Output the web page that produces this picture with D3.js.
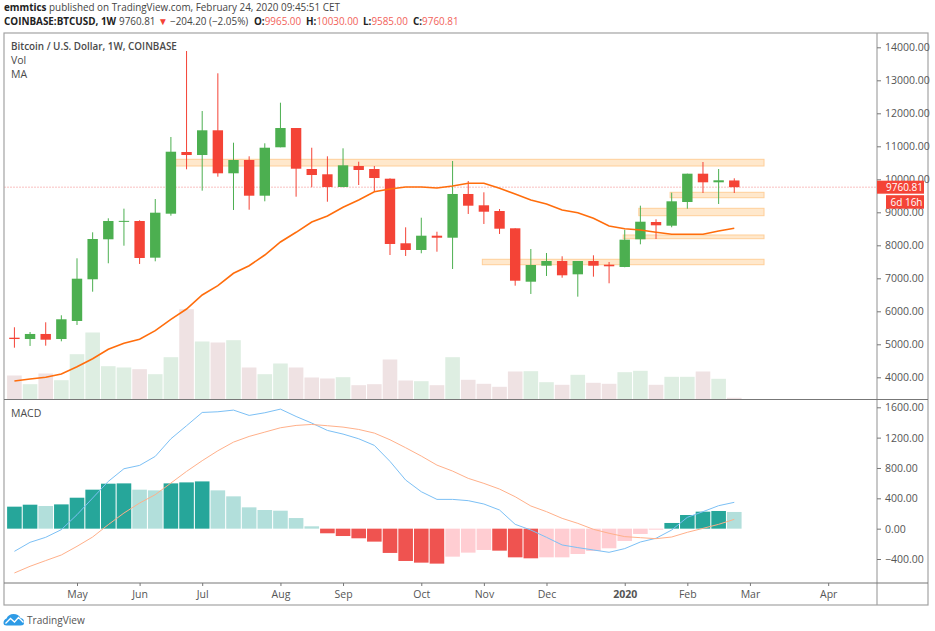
<!DOCTYPE html>
<html>
<head>
<meta charset="utf-8">
<script src="https://cdn.jsdelivr.net/npm/d3@7"></script>
<style>
  html, body { margin: 0; padding: 0; background: #fff; }
  svg { display: block; }
  text { font-family: "Open Sans", sans-serif; fill: #4a4a4a; }
  .axis-label { font-size: 10.5px; fill: #555; font-family: "Open Sans", sans-serif; }
</style>
</head>
<body>
<svg id="chart"></svg>
<script>
const width = 935;
const height = 631;

// weekly candles
const opens = [5200, 5160, 5313, 5160, 5707, 6970, 8182, 8720, 8736, 7625, 8958, 10827, 10736, 11485, 10182, 10585, 9503, 10970, 11554, 10312, 10152, 9767, 10403, 10312, 10018, 8061, 7858, 8291, 8230, 9555, 9212, 9039, 8515, 6897, 7382, 7524, 7121, 7524, 7412, 7343, 8182, 8706, 8594, 9312, 10170, 9909, 9965];
const highs = [5516, 5373, 5667, 5879, 7606, 8394, 8818, 9110, 8758, 9403, 11282, 13887, 12069, 13212, 11109, 10697, 11091, 12321, 11554, 10957, 10697, 10939, 10533, 10403, 10030, 8545, 8836, 8412, 10555, 9948, 9606, 9100, 8515, 7888, 7767, 7667, 7524, 7697, 7494, 8473, 9200, 8788, 9594, 10170, 10524, 10312, 10030];
const lows = [4897, 4950, 4958, 5091, 5585, 6594, 7455, 7988, 7434, 7515, 8897, 10303, 9655, 10079, 9070, 9079, 9333, 10970, 9473, 9758, 9321, 9758, 9827, 9624, 7706, 7676, 7758, 7806, 7282, 8949, 8646, 8343, 6776, 6525, 7070, 7018, 6443, 7049, 6849, 7334, 8030, 8191, 8546, 9109, 9585, 9252, 9585];
const closes = [5160, 5313, 5140, 5758, 6988, 8191, 8736, 8740, 7615, 8988, 10836, 10736, 11485, 10182, 10585, 9503, 10957, 11554, 10321, 10130, 9767, 10424, 10282, 10039, 8040, 7858, 8291, 8230, 9555, 9200, 9018, 8503, 6927, 7403, 7524, 7091, 7524, 7382, 7364, 8170, 8715, 8606, 9333, 10170, 9909, 9970, 9760.81];

const volumes = [24, 15.3, 26, 19.3, 45.3, 67, 33.3, 32, 30.3, 25.3, 42.3, 90.3, 58, 57, 59.3, 32, 25.3, 36, 32, 22, 21, 22.3, 14.3, 15.3, 40, 19, 18.3, 14.3, 42.3, 19.7, 15.7, 12.7, 28, 28.3, 17.3, 14.7, 24.7, 16.7, 15.7, 27.3, 28.7, 14.7, 22.7, 22.7, 28, 20.7, 1.7];

const maValues = [3888, 3949, 4001, 4101, 4322, 4564, 4849, 5031, 5152, 5413, 5758, 6070, 6494, 6776, 7152, 7382, 7706, 8100, 8394, 8706, 8888, 9152, 9373, 9624, 9706, 9767, 9767, 9736, 9797, 9879, 9879, 9727, 9555, 9373, 9252, 9070, 8988, 8818, 8585, 8503, 8464, 8394, 8333, 8333, 8333, 8433, 8515];

const macdHist = [290, 316, 299, 320, 408, 514, 593, 597, 514, 505, 597, 610, 623, 505, 426, 281, 246, 237, 140, 31, -61, -97, -127, -171, -320, -426, -448, -461, -369, -316, -281, -290, -378, -391, -378, -378, -334, -294, -259, -162, -70, -13, 75, 180, 224, 233, 220];
const macdLine = [-299, -180, -114, -13, 184, 404, 623, 790, 834, 953, 1185, 1357, 1532, 1541, 1563, 1493, 1528, 1576, 1479, 1392, 1295, 1247, 1185, 1098, 887, 641, 487, 386, 386, 369, 325, 246, 57, -18, -114, -215, -250, -281, -312, -263, -176, -127, -18, 149, 224, 303, 347];
const signalLine = [-584, -496, -421, -347, -233, -110, 53, 206, 338, 448, 601, 755, 896, 1027, 1141, 1216, 1273, 1330, 1361, 1374, 1357, 1339, 1308, 1260, 1172, 1067, 957, 838, 759, 663, 597, 522, 421, 299, 224, 136, 70, -9, -61, -105, -119, -132, -110, -48, 4, 57, 123];

// support zones: week index where it starts, top and bottom price
const zoneStarts = [10.3, 29.9, 41.9, 39.9, 38.9];
const zoneTops = [10606, 7576, 9606, 9121, 8312];
const zoneBottoms = [10403, 7412, 9442, 8897, 8200];
const zoneEnd = 47.9;

const priceTicks = [14000, 13000, 12000, 11000, 10000, 9000, 8000, 7000, 6000, 5000, 4000];
const macdTicks = [1600, 1200, 800, 400, 0, -400];
const monthLabels = ["May", "Jun", "Jul", "Aug", "Sep", "Oct", "Nov", "Dec", "2020", "Feb", "Mar", "Apr"];
const monthWeeks = [4, 8, 12, 17, 21, 26, 30, 34, 39, 43, 47, 52];

const lastPrice = 9760.81;

const colorUp = "#4caf50";
const colorDown = "#f44336";

const frame = { left: 4, right: 928, top: 33, bottom: 605 };
const axisX = 877;
const splitY = 399.5;
const timeY = 583;

const svg = d3.select("#chart").attr("width", width).attr("height", height);

const xScale = d3.scaleLinear().domain([-0.665, 55.12]).range([frame.left, axisX]);
const priceScale = d3.scaleLinear().domain([4000, 14000]).range([377.3, 47.3]);
const volumeScale = d3.scaleLinear().domain([0, 100]).range([splitY, splitY - 100]);
const macdScale = d3.scaleLinear().domain([-400, 1600]).range([559, 407.3]);

const weeks = d3.range(opens.length);

drawZones();
drawVolume();
drawLastPriceLine();
drawCandles();
drawMA();
drawMacd();
drawFrame();
drawPriceAxis();
drawMacdAxis();
drawTimeAxis();
drawPriceTags();
drawTitles();
drawLogo();

function translate(x, y) {
  return "translate(" + String(x) + "," + String(y) + ")";
}

function drawZones() {
  svg.append("g").attr("id", "zones")
    .selectAll("rect")
    .data(zoneStarts)
    .enter()
    .append("rect")
    .attr("x", d => xScale(d))
    .attr("width", d => xScale(zoneEnd) - xScale(d))
    .attr("y", (d, i) => priceScale(zoneTops[i]))
    .attr("height", (d, i) => priceScale(zoneBottoms[i]) - priceScale(zoneTops[i]))
    .attr("fill", "#ffe8cc")
    .attr("stroke", "#ffcf99")
    .attr("stroke-width", 1);
}

function drawVolume() {
  let bandWidth = 14.6;
  svg.append("g").attr("id", "volume")
    .selectAll("rect")
    .data(weeks)
    .enter()
    .append("rect")
    .attr("x", d => xScale(d) - bandWidth / 2)
    .attr("width", bandWidth)
    .attr("y", d => volumeScale(volumes[d]))
    .attr("height", d => volumeScale(0) - volumeScale(volumes[d]))
    .attr("fill", d => closes[d] >= opens[d] ? "#deeee2" : "#efe2e3");
}

function drawLastPriceLine() {
  svg.append("line")
    .attr("x1", frame.left)
    .attr("x2", axisX)
    .attr("y1", priceScale(lastPrice))
    .attr("y2", priceScale(lastPrice))
    .attr("stroke", "#fbd5d5")
    .attr("stroke-width", 1.4)
    .attr("stroke-dasharray", "2 1");
}

function drawCandles() {
  let bodyWidth = 10.4;
  let candles = svg.append("g").attr("id", "candles")
    .selectAll("g")
    .data(weeks)
    .enter()
    .append("g");

  candles.append("line")
    .attr("x1", d => xScale(d))
    .attr("x2", d => xScale(d))
    .attr("y1", d => priceScale(highs[d]))
    .attr("y2", d => priceScale(lows[d]))
    .attr("stroke", d => closes[d] >= opens[d] ? colorUp : colorDown)
    .attr("stroke-width", 1);

  candles.append("rect")
    .attr("x", d => xScale(d) - bodyWidth / 2)
    .attr("width", bodyWidth)
    .attr("y", d => priceScale(Math.max(opens[d], closes[d])))
    .attr("height", d => Math.max(1, Math.abs(priceScale(opens[d]) - priceScale(closes[d]))))
    .attr("fill", d => closes[d] >= opens[d] ? colorUp : colorDown);
}

function drawMA() {
  let line = d3.line()
    .x((d, i) => xScale(i))
    .y(d => priceScale(d));

  svg.append("path")
    .attr("id", "ma")
    .attr("d", line(maValues))
    .attr("fill", "none")
    .attr("stroke", "#ff6d0c")
    .attr("stroke-width", 1.6);
}

function drawMacd() {
  let bandWidth = 14.6;
  svg.append("g").attr("id", "macd-hist")
    .selectAll("rect")
    .data(weeks)
    .enter()
    .append("rect")
    .attr("x", d => xScale(d) - bandWidth / 2)
    .attr("width", bandWidth)
    .attr("y", d => macdScale(Math.max(0, macdHist[d])))
    .attr("height", d => Math.abs(macdScale(macdHist[d]) - macdScale(0)))
    .attr("fill", d => histColor(d));

  let line = d3.line()
    .x((d, i) => xScale(i))
    .y(d => macdScale(d));

  svg.append("path")
    .attr("d", line(macdLine))
    .attr("fill", "none")
    .attr("stroke", "#7cc0f5")
    .attr("stroke-width", 1);

  svg.append("path")
    .attr("d", line(signalLine))
    .attr("fill", "none")
    .attr("stroke", "#ffb08a")
    .attr("stroke-width", 1);
}

// dark when the histogram grew compared to the week before
function histColor(i) {
  let v = macdHist[i];
  let prev = i > 0 ? macdHist[i - 1] : 0;
  if (v >= 0) {
    return v >= prev ? "#26a69a" : "#b2dfdb";
  }
  return v < prev ? "#ef5350" : "#ffcdd2";
}

function drawFrame() {
  let lines = svg.append("g").attr("id", "frame");

  lines.append("rect")
    .attr("x", frame.left)
    .attr("y", frame.top)
    .attr("width", frame.right - frame.left)
    .attr("height", frame.bottom - frame.top)
    .attr("fill", "none")
    .attr("stroke", "#a3a3a3")
    .attr("stroke-width", 1.2);

  lines.append("line")
    .attr("x1", axisX).attr("x2", axisX)
    .attr("y1", frame.top).attr("y2", frame.bottom)
    .attr("stroke", "#a3a3a3")
    .attr("stroke-width", 1.2);

  lines.append("line")
    .attr("x1", frame.left).attr("x2", frame.right)
    .attr("y1", splitY).attr("y2", splitY)
    .attr("stroke", "#777")
    .attr("stroke-width", 1);

  lines.append("line")
    .attr("x1", frame.left).attr("x2", frame.right)
    .attr("y1", timeY).attr("y2", timeY)
    .attr("stroke", "#777")
    .attr("stroke-width", 1);
}

function styleAxis(g) {
  g.select("path.domain").remove();
  g.selectAll("line").attr("stroke", "#777");
  g.selectAll("text").attr("class", "axis-label");
}

function drawPriceAxis() {
  let axis = d3.axisRight(priceScale)
    .tickValues(priceTicks)
    .tickSize(4)
    .tickPadding(4)
    .tickFormat(d3.format(".2f"));

  svg.append("g")
    .attr("id", "price-axis")
    .attr("transform", translate(axisX, 0))
    .call(axis)
    .call(styleAxis);
}

function drawMacdAxis() {
  let axis = d3.axisRight(macdScale)
    .tickValues(macdTicks)
    .tickSize(4)
    .tickPadding(4)
    .tickFormat(d => d3.format(".2f")(d).replace("-", "\u2212"));

  svg.append("g")
    .attr("id", "macd-axis")
    .attr("transform", translate(axisX, 0))
    .call(axis)
    .call(styleAxis);
}

function drawTimeAxis() {
  let axis = d3.axisBottom(xScale)
    .tickValues(monthWeeks)
    .tickSize(3)
    .tickPadding(5)
    .tickFormat((d, i) => monthLabels[i]);

  let group = svg.append("g")
    .attr("id", "time-axis")
    .attr("transform", translate(0, timeY))
    .call(axis)
    .call(styleAxis);

  group.selectAll("text")
    .style("font-weight", (d, i) => monthLabels[i] == "2020" ? "700" : "400");
}

function drawPriceTags() {
  let y = priceScale(lastPrice);

  svg.append("rect")
    .attr("x", axisX)
    .attr("y", y - 6.5)
    .attr("width", 47)
    .attr("height", 13)
    .attr("fill", colorDown);

  svg.append("text")
    .attr("x", axisX + 9)
    .attr("y", y + 3.6)
    .attr("font-size", 10)
    .style("fill", "#fff")
    .text("9760.81");

  svg.append("rect")
    .attr("x", axisX + 9)
    .attr("y", y + 8)
    .attr("width", 38)
    .attr("height", 13.5)
    .attr("fill", colorDown);

  svg.append("text")
    .attr("x", axisX + 13.5)
    .attr("y", y + 18.5)
    .attr("font-size", 10)
    .style("fill", "#fff")
    .text("6d 16h");
}

function drawTitles() {
  let head = svg.append("text").attr("x", 4).attr("y", 11).attr("font-size", 9.9);
  head.append("tspan").attr("font-weight", 700).style("fill", "#222").text("emmtics");
  head.append("tspan").style("fill", "#444").text(" published on TradingView.com, February 24, 2020 09:45:51 CET");

  let quote = svg.append("text").attr("y", 25).attr("font-size", 9.9);
  quote.append("tspan").attr("x", 4).attr("font-weight", 700).style("fill", "#222").text("COINBASE:BTCUSD, 1W");
  quote.append("tspan").attr("x", 119).style("fill", "#444").text("9760.81");
  quote.append("tspan").attr("x", 158).style("fill", colorDown).text("\u25BC");
  quote.append("tspan").attr("x", 170).style("fill", "#444").text("\u2212204.20 (\u22122.05%)");

  let quoteLabels = ["O:", "H:", "L:", "C:"];
  let quoteValues = ["9965.00", "10030.00", "9585.00", "9760.81"];
  let quoteStarts = [254, 306, 363, 413];
  quoteLabels.forEach((label, i) => {
    quote.append("tspan").attr("x", quoteStarts[i]).attr("font-weight", 700).style("fill", "#222").text(label);
    quote.append("tspan").style("fill", "#f2625a").text(quoteValues[i]);
  });

  svg.append("text").attr("x", 11).attr("y", 50).attr("font-size", 9.9)
    .attr("font-weight", 600).style("fill", "#4a4a4a")
    .text("Bitcoin / U.S. Dollar, 1W, COINBASE");
  svg.append("text").attr("x", 11).attr("y", 64).attr("font-size", 10.5).text("Vol");
  svg.append("text").attr("x", 11).attr("y", 78).attr("font-size", 10.5).text("MA");
  svg.append("text").attr("x", 11).attr("y", 417).attr("font-size", 10.5).text("MACD");
}

function drawLogo() {
  let logo = svg.append("g").attr("id", "logo").attr("transform", translate(3.5, 614));

  logo.append("path")
    .attr("d", "M0 9 Q0 5.5 3 4.5 Q5 0 10 0 Q15 0 17 4 Q20.5 4.5 20.5 8 L20.5 9 Q20.5 11.5 17 11.5 L3 11.5 Q0 11.5 0 9 Z")
    .attr("fill", "#2e9be6");

  logo.append("path")
    .attr("d", "M2 9.5 L7 4.5 L11 8 L15 3.5 L20 8.5")
    .attr("fill", "none")
    .attr("stroke", "#fff")
    .attr("stroke-width", 1.3);

  svg.append("text")
    .attr("x", 27)
    .attr("y", 624)
    .attr("font-size", 10.1)
    .style("fill", "#555")
    .text("TradingView");
}
</script>
</body>
</html>
